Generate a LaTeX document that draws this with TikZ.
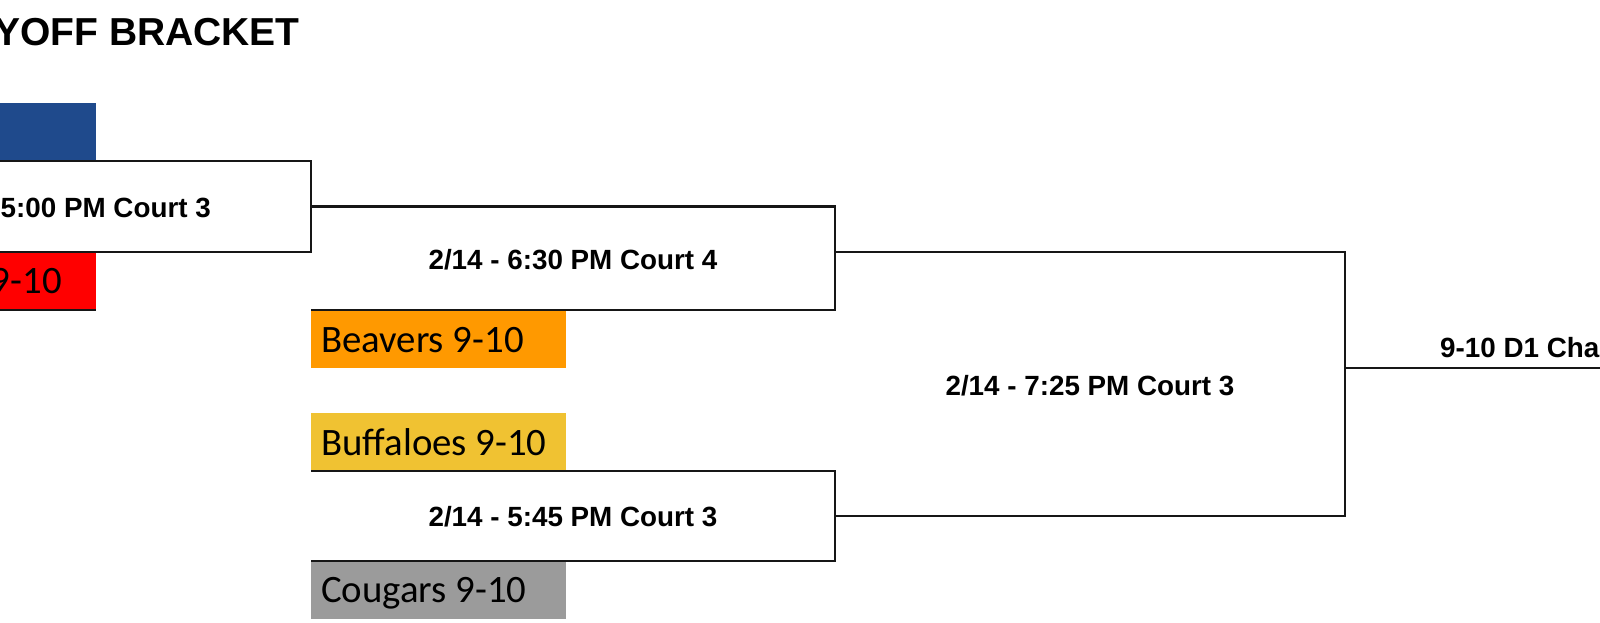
\documentclass[tikz,border=0pt]{standalone}
\usepackage{fontspec}
\setmainfont{Liberation Sans}
\newfontfamily\teamfont{Carlito}
\definecolor{blueT}{HTML}{1F4A8C}
\definecolor{redT}{HTML}{FF0000}
\definecolor{orangeT}{HTML}{FF9900}
\definecolor{goldT}{HTML}{F0C232}
\definecolor{grayT}{HTML}{9B9B9B}
\definecolor{lineC}{HTML}{161616}
\tikzset{
  bline/.style={draw=lineC, line width=2.4pt, line join=miter},
  teambox/.style={anchor=north west, minimum width=255pt, minimum height=58pt, inner sep=0pt, outer sep=0pt, draw=none},
  teamtext/.style={anchor=base west, inner sep=0pt, font=\teamfont\fontsize{38.8}{40}\selectfont, text=black},
  matchtext/.style={anchor=base, inner sep=0pt, font=\bfseries\fontsize{27.8}{30}\selectfont},
  titletext/.style={anchor=base east, inner sep=0pt, font=\bfseries\fontsize{39}{42}\selectfont}
}
\begin{document}
\begin{tikzpicture}[x=1pt,y=-1pt]
\useasboundingbox (0,0) rectangle (1600,623);
\fill[white] (0,0) rectangle (1600,623);
\clip (0,0) rectangle (1600,623);

% title
\node[titletext] (title) at (300,46) {YOFF BRACKET};

% first column team boxes
\node[teambox, fill=blueT, anchor=north east, minimum width=200pt] (blue) at (96,103) {};
\node[teambox, fill=redT, anchor=north east, minimum width=200pt] (red) at (96,252) {};
\node[teamtext, anchor=base east] (redlab) at ([shift={(-34,-17)}]red.south east) {9-10};
\draw[bline] (red.south west) -- (red.south east);

% match 1 box
\node[bline, anchor=north east, minimum width=520pt, minimum height=91pt, inner sep=0pt, outer sep=0pt] (m1) at (311,161) {};
\node[matchtext, anchor=base east] (m1lab) at (211,217) {5:00 PM Court 3};

% second column team boxes
\node[teambox, fill=orangeT] (beav) at (311,310) {};
\node[teamtext] (beavlab) at ([shift={(10,-16)}]beav.south west) {Beavers 9-10};
\node[teambox, fill=goldT] (buff) at (311,413) {};
\node[teamtext] (bufflab) at ([shift={(10,-16)}]buff.south west) {Buffaloes 9-10};
\node[teambox, fill=grayT] (coug) at (311,561) {};
\node[teamtext] (couglab) at ([shift={(10,-17)}]coug.south west) {Cougars 9-10};

% match 2
\coordinate (m2se) at (835,310);
\coordinate (m2out) at (835,252);
\draw[bline] (m1.east) -| (m2se) -- (beav.north west);
\node[matchtext] (m2lab) at (573,269) {2/14 - 6:30 PM Court 4};

% match 3
\coordinate (m3ne) at (835,471);
\coordinate (m3se) at (835,561);
\coordinate (m3out) at (835,516);
\draw[bline] (buff.south west) -- (m3ne) -- (m3se) -- (coug.north west);
\node[matchtext] (m3lab) at (573,526) {2/14 - 5:45 PM Court 3};

% match 4
\coordinate (m4ne) at (1345,252);
\coordinate (m4se) at (1345,516);
\coordinate (m4out) at (1345,368);
\coordinate (final) at (1610,368);
\draw[bline] (m2out) -- (m4ne) -- (m4se) -- (m3out);
\node[matchtext] (m4lab) at (1090,395) {2/14 - 7:25 PM Court 3};

% final
\draw[bline] (m4out) -- (final);
\node[matchtext, anchor=base west] (champ) at (1440,357) {9-10 D1 Cha};
\end{tikzpicture}
\end{document}
